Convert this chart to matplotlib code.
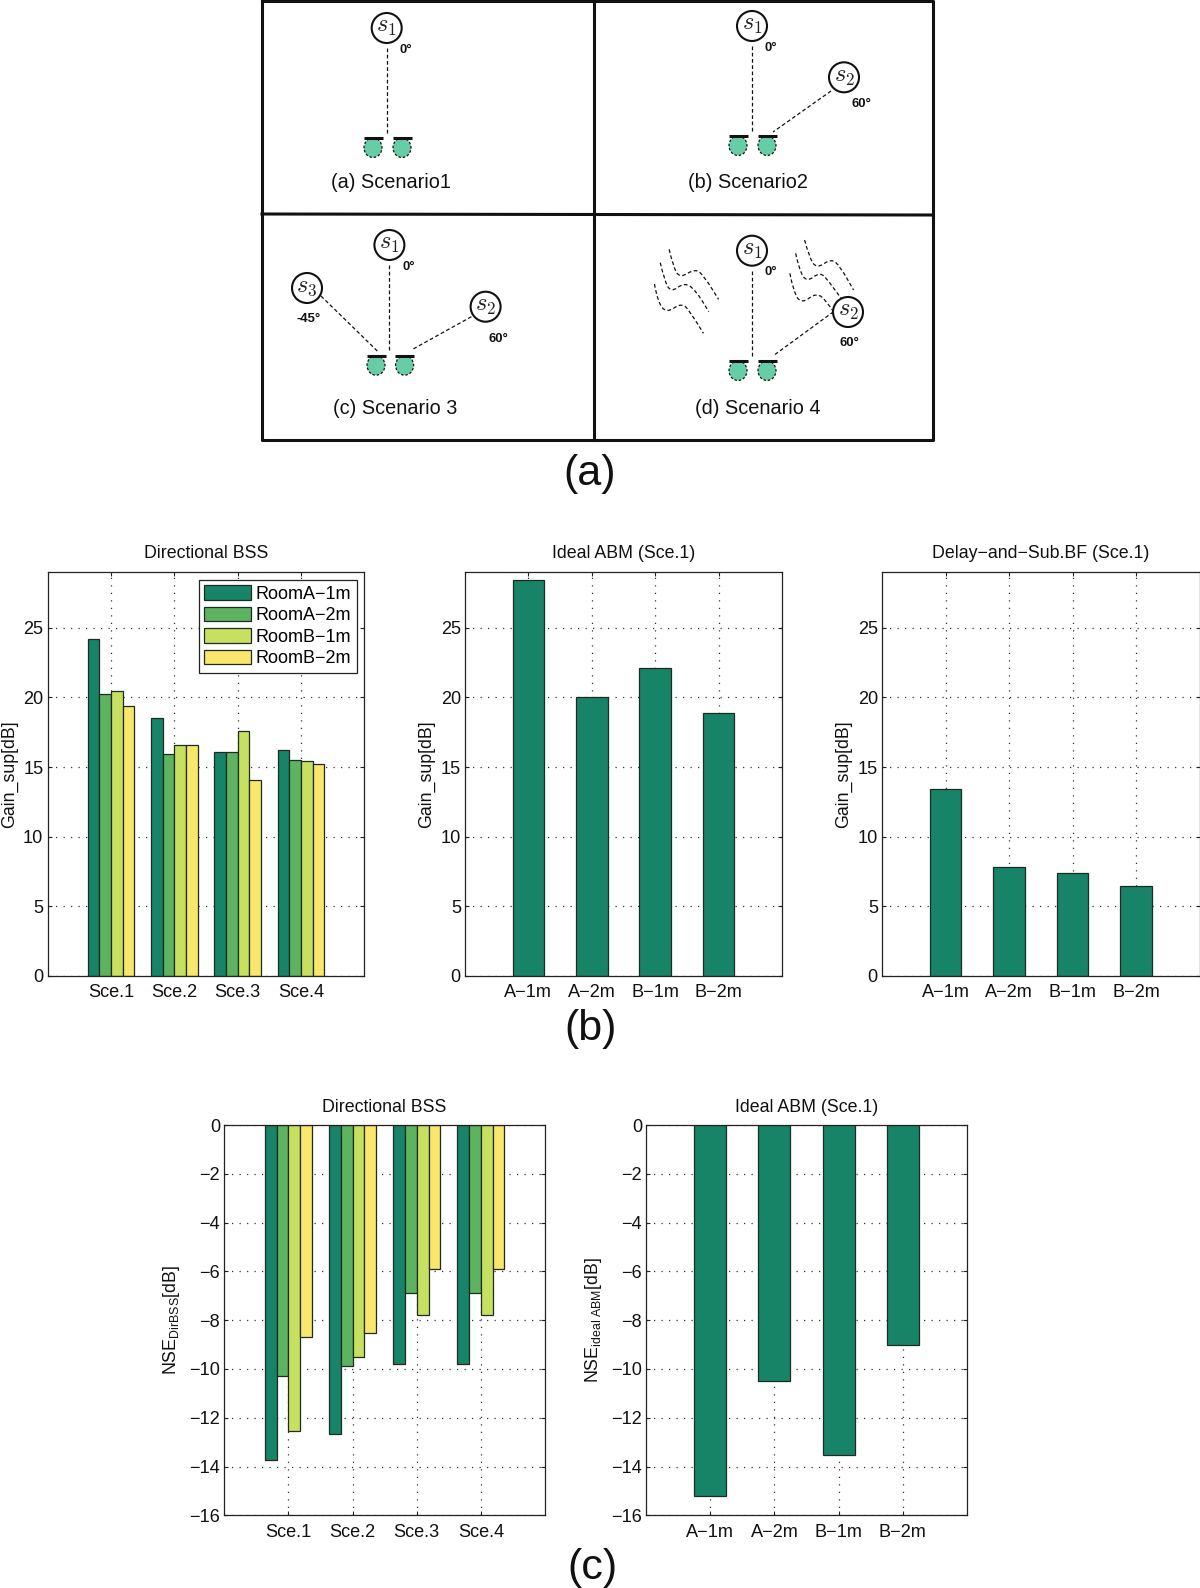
import numpy as np
import matplotlib
matplotlib.use("Agg")
import matplotlib.pyplot as plt
from matplotlib.patches import Ellipse, PathPatch
from matplotlib.path import Path

plt.rcParams['font.family'] = ['Liberation Sans', 'DejaVu Sans']
plt.rcParams['mathtext.fontset'] = 'custom'
plt.rcParams['mathtext.rm'] = 'Liberation Sans'
plt.rcParams['mathtext.it'] = 'Liberation Sans:italic'
plt.rcParams['mathtext.bf'] = 'Liberation Sans:bold'

# ---------- data ----------
scenarios = ['Sce.1', 'Sce.2', 'Sce.3', 'Sce.4']
rooms = ['RoomA\u22121m', 'RoomA\u22122m', 'RoomB\u22121m', 'RoomB\u22122m']
room_short = ['A\u22121m', 'A\u22122m', 'B\u22121m', 'B\u22122m']

gain_a1 = [24.2, 18.5, 16.1, 16.25]
gain_a2 = [20.25, 15.9, 16.1, 15.5]
gain_b1 = [20.45, 16.6, 17.6, 15.4]
gain_b2 = [19.35, 16.55, 14.05, 15.25]
gain_ideal = [28.4, 20.05, 22.1, 18.85]
gain_delay = [13.4, 7.8, 7.4, 6.45]

nse_a1 = [-13.72, -12.68, -9.78, -9.78]
nse_a2 = [-10.3, -9.9, -6.87, -6.87]
nse_b1 = [-12.53, -9.52, -7.8, -7.8]
nse_b2 = [-8.69, -8.53, -5.9, -5.9]
nse_ideal = [-15.22, -10.5, -13.54, -9.0]

colors = ['#178467', '#5DB35F', '#C8E060', '#F8E76B']
EDGE = '#1d2b22'
W, H = 1200, 1588

fig = plt.figure(figsize=(W / 100, H / 100), dpi=100, facecolor='white')


def make_ax(l, r, t, b):
    return fig.add_axes([l / W, 1 - b / H, (r - l) / W, (b - t) / H])


def style(ax, ylim, yticks, xlabels, title, ylabel, label_px, l, r, pad):
    ax.set_xlim(0, 5)
    ax.set_ylim(*ylim)
    ax.set_xticks([1, 2, 3, 4])
    ax.set_xticklabels(xlabels)
    ax.set_yticks(yticks)
    ax.tick_params(direction='in', top=True, right=True, length=3, width=0.8,
                   labelsize=13.1, color='#222222', labelcolor='#111111')
    ax.tick_params(axis='x', pad=6)
    ax.tick_params(axis='y', pad=3)
    ax.grid(True, color='#333333', linestyle=(0, (1, 5)), linewidth=0.9)
    ax.set_axisbelow(True)
    for s in ax.spines.values():
        s.set_linewidth(0.9)
        s.set_color('#222222')
    ax.set_title(title, fontsize=12.8, pad=pad, color='#111111')
    ax.set_ylabel(ylabel, fontsize=12.8, va='center', color='#111111')
    ax.yaxis.set_label_coords((label_px - l) / (r - l), 0.5)


def grouped(ax, series):
    x = np.arange(1, 5)
    w = 0.184
    for i, vals in enumerate(series):
        ax.bar(x + (i - 1.5) * w, vals, w, color=colors[i], edgecolor=EDGE,
               linewidth=0.9, label=rooms[i])


def single(ax, vals):
    ax.bar(np.arange(1, 5), vals, 0.5, color=colors[0], edgecolor=EDGE, linewidth=0.9)


T1, B1 = 572, 976
T2, B2 = 1125, 1515.3
GAIN = ((0, 29), [0, 5, 10, 15, 20, 25])
NSE = ((-16, 0), list(range(-16, 1, 2)))

ax = make_ax(47.5, 364.5, T1, B1)
grouped(ax, [gain_a1, gain_a2, gain_b1, gain_b2])
style(ax, *GAIN, scenarios, 'Directional BSS', 'Gain_sup[dB]', 9.5, 47.5, 364.5, 10)
leg = ax.legend(loc='upper right', bbox_to_anchor=(0.976, 0.980), borderaxespad=0,
                fontsize=13, handlelength=2.6, handleheight=0.85, labelspacing=0.22,
                handletextpad=0.28, borderpad=0.3, fancybox=False, framealpha=1,
                edgecolor='#222222')
leg.get_frame().set_linewidth(0.9)

ax = make_ax(465, 782, T1, B1)
single(ax, gain_ideal)
style(ax, *GAIN, room_short, 'Ideal ABM (Sce.1)', 'Gain_sup[dB]', 427, 465, 782, 10)

ax = make_ax(882, 1199.5, T1, B1)
single(ax, gain_delay)
style(ax, *GAIN, room_short, 'Delay\u2212and\u2212Sub.BF (Sce.1)', 'Gain_sup[dB]', 844, 882, 1199.5, 10)

ax = make_ax(224.3, 545, T2, B2)
grouped(ax, [nse_a1, nse_a2, nse_b1, nse_b2])
style(ax, *NSE, scenarios, 'Directional BSS', r'NSE$_{\mathrm{DirBSS}}$[dB]', 171, 224.3, 545, 9.4)

ax = make_ax(646.3, 966.7, T2, B2)
single(ax, nse_ideal)
style(ax, *NSE, room_short, 'Ideal ABM (Sce.1)', r'NSE$_{\mathrm{ideal\ ABM}}$[dB]', 593, 646.3, 966.7, 9.4)

# ---------- schematic, full-figure axes in pixel units ----------
d = fig.add_axes([0, 0, 1, 1], zorder=-1)
d.set_xlim(0, W)
d.set_ylim(H, 0)
d.axis('off')

DASH = (0, (3, 2))
BOX = dict(color='#111111', lw=2.2, solid_capstyle='projecting')
d.plot([262, 933, 933, 262, 262], [1, 1, 440, 440, 1], **BOX)
d.plot([593.5, 593.5], [1, 440], **BOX)
d.plot([262, 933], [214, 215], **BOX)


def source(x, y, name):
    d.add_patch(Ellipse((x, y), 30, 30, fc='white', ec='#111111', lw=1.5))
    d.text(x, y - 0.5, name, ha='center', va='center', fontsize=17.5, math_fontfamily='cm', color='#222222')


def angle(x, y, s):
    d.text(x, y, s, ha='center', va='center', fontsize=9.4, fontweight='bold', color='#111111')


def dash(x0, y0, x1, y1):
    d.plot([x0, x1], [y0, y1], color='#111111', lw=0.9, linestyle=DASH)


def mics(x1, x2, ybar):
    for x in (x1, x2):
        d.plot([x - 9.5, x + 9.5], [ybar, ybar], color='#111111', lw=2.2, solid_capstyle='butt')
        d.add_patch(Ellipse((x, ybar + 9.7), 18, 19.5, fc='#66CDA6', ec='#111111', lw=0.9, linestyle=(0, (2, 1.5))))


def label(x, y, s):
    d.text(x, y, s, ha='center', va='center', fontsize=14.3, color='#111111')


def wavy(points):
    pts = [(250 + zx / 2.245, 210 + zy / 3) for zx, zy in points]
    verts = [pts[0]]
    codes = [Path.MOVETO]
    for i in range(1, len(pts) - 1):
        mid = ((pts[i][0] + pts[i + 1][0]) / 2, (pts[i][1] + pts[i + 1][1]) / 2)
        verts += [pts[i], mid]
        codes += [Path.CURVE3, Path.CURVE3]
    verts.append(pts[-1])
    codes.append(Path.LINETO)
    d.add_patch(PathPatch(Path(verts, codes), fc='none', ec='#111111', lw=0.9, linestyle=DASH))


# (a)
source(386.7, 28, '$s_1$'); angle(406, 50, '0°'); dash(387, 48, 387, 133)
mics(373, 402, 138); label(391, 183, '(a) Scenario1')
# (b)
source(752, 26, '$s_1$'); angle(771, 48, '0°'); dash(752, 46, 752, 131)
source(844, 77.3, '$s_2$'); angle(861.6, 104, '60°'); dash(831, 91, 773, 132)
mics(738, 767, 136); label(748, 183, '(b) Scenario2')
# (c)
source(389.4, 245, '$s_1$'); angle(409, 267, '0°'); dash(389.4, 265, 389.4, 350)
source(307, 288, '$s_3$'); angle(308.4, 318.7, '-45°'); dash(321, 296, 378, 351.7)
source(485.6, 306.7, '$s_2$'); angle(498.6, 339, '60°'); dash(471.4, 316.7, 412.6, 349.3)
mics(376, 404.6, 355.7); label(395, 408.7, '(c) Scenario 3')
# (d)
wave_sets = [
    [(941, 118), (950, 170), (965, 205), (1000, 175), (1020, 200), (1052, 268)],
    [(921, 158), (930, 210), (945, 248), (975, 217), (1000, 240), (1030, 305)],
    [(908, 222), (915, 275), (935, 310), (970, 277), (990, 310), (1018, 370)],
    [(1245, 90), (1255, 140), (1272, 177), (1305, 145), (1325, 170), (1355, 240)],
    [(1225, 130), (1233, 180), (1250, 217), (1280, 185), (1300, 215), (1335, 280)],
    [(1212, 190), (1220, 245), (1238, 282), (1272, 247), (1295, 275), (1322, 330)],
]
for w in wave_sets:
    wavy(w)
source(752, 250.7, '$s_1$'); angle(771, 272, '0°'); dash(752, 270.7, 752, 355.7)
source(848, 312, '$s_2$'); angle(849.6, 342.7, '60°'); dash(833.5, 311.7, 774.7, 354.7)
mics(738, 767, 361); label(758, 408.7, '(d) Scenario 4')

# panel letters
for y, s, x in [(474, '(a)', 590), (1029, '(b)', 590.7), (1568, '(c)', 592)]:
    fig.text(x / W, 1 - y / H, s, ha='center', va='center', fontsize=31, color='#111111')

fig.savefig('out.png', dpi=100, facecolor='white')
